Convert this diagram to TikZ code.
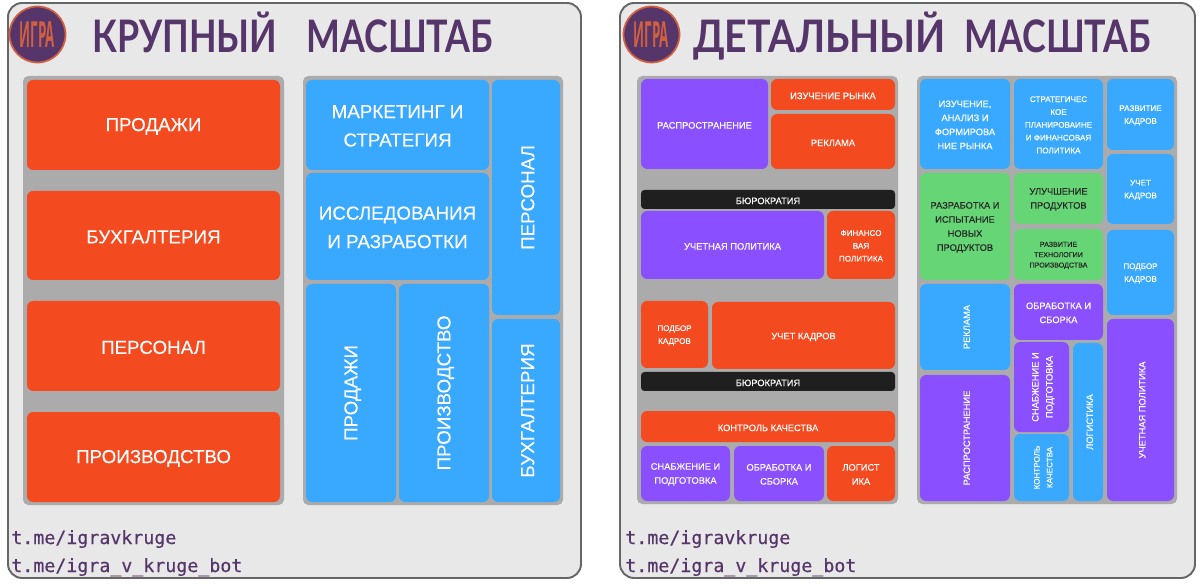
\documentclass[tikz,border=0pt]{standalone}
\usepackage{fontspec}
\setmainfont[FakeBold=0.15]{Liberation Sans}
\newfontfamily\titlefont{Lato}
\newfontfamily\logofont{Open Sans}
\newfontfamily\linkfont[FakeBold=0.4]{DejaVu Sans Mono}
\usetikzlibrary{calc}
\definecolor{gamered}{HTML}{F44A20}
\definecolor{gameblue}{HTML}{38A9FF}
\definecolor{gameviolet}{HTML}{8A4FFF}
\definecolor{gamegreen}{HTML}{66D575}
\definecolor{gameplum}{HTML}{55356A}
\definecolor{gameedge}{HTML}{D0603F}
\tikzset{
  redcell/.style={fill=gamered,rounded corners=3.5pt},
  bluecell/.style={fill=gameblue,rounded corners=3.5pt},
  violetcell/.style={fill=gameviolet,rounded corners=3.5pt},
  greencell/.style={fill=gamegreen,rounded corners=3.5pt},
  blackcell/.style={fill=black!88,rounded corners=2pt},
  panel/.style={draw=black!60,line width=1.1pt,fill=black!9,rounded corners=8pt},
  tray/.style={fill=black!33,rounded corners=3pt},
  label/.style={text=white,align=center,inner sep=0pt},
  huge/.style={label,font=\fontsize{10.7}{16.2}\selectfont},
  low/.style={label,font=\fontsize{5.3}{8}\selectfont},
  wee/.style={label,font=\fontsize{4.6}{7.3}\selectfont},
  fine/.style={label,font=\fontsize{4.05}{5.9}\selectfont},
  one/.style={yshift=-0.8pt},
  two/.style={yshift=-0.5pt},
  tall/.style={rotate=90,yshift=-1pt},
  darktext/.style={text=black!85},
  title/.style={text=gameplum,anchor=base west,inner sep=0pt,font=\titlefont\bfseries\fontsize{25.5}{26}\selectfont},
  link/.style={text=gameplum,anchor=base west,inner sep=0pt,font=\linkfont\fontsize{10.4}{12}\selectfont}
}
\newcommand{\createcell}[8]{\fill[#6] (#2,#3) rectangle (#4,#5); \node[#7] (#1) at ({(#2+#4)/2},{(#3+#5)/2}) {#8};}
\newcommand{\createlogo}[3]{\filldraw[fill=gameplum,draw=gameedge,line width=1pt] (#2,#3) circle (28); \node[text=gameedge,inner sep=0pt,xscale=0.37,font=\logofont\bfseries\fontsize{20.5}{21}\selectfont] (#1) at (#2,#3) {ИГРА};}
\begin{document}
\begin{tikzpicture}[x=0.02cm,y=-0.02cm]
    \useasboundingbox (0,0) rectangle (1200,587);
    \fill[white] (0,0) rectangle (1200,587);
    %panels
    \filldraw[panel] (8,3) rectangle (581,578);
    \filldraw[panel] (620,3) rectangle (1195,578);
    \fill[tray] (23,76) rectangle (284,505);
    \fill[tray] (303,76) rectangle (563,505);
    \fill[tray] (637,76) rectangle (898,504);
    \fill[tray] (917,76) rectangle (1177,504);
    %heads
    \createlogo{logoa}{37.5}{34.5}
    \createlogo{logob}{651.5}{34.5}
    \node[title,xscale=0.8] (titlea) at (92,53) {КРУПНЫЙ};
    \node[title,xscale=0.8] (titleb) at (306,53) {МАСШТАБ};
    \node[title,xscale=0.875] (titlec) at (693,53) {ДЕТАЛЬНЫЙ};
    \node[title,xscale=0.8] (titled) at (964,53) {МАСШТАБ};
    \foreach \x/\n in {11/a,625/b} {
        \node[link] (chan\n) at (\x,544) {t.me/igravkruge};
        \node[link] (bot\n) at (\x,572) {t.me/igra\_v\_kruge\_bot};}
    %large scale, left
    \foreach \top/\bot/\n/\txt in {80/170/sales/ПРОДАЖИ,191/280/books/БУХГАЛТЕРИЯ,301/391/staff/ПЕРСОНАЛ,412/502/prod/ПРОИЗВОДСТВО} {
        \createcell{\n}{27}{\top}{280}{\bot}{redcell}{huge,one}{\txt}}
    %large scale, right
    \createcell{market}{306}{80}{489}{170}{bluecell}{huge,two}{МАРКЕТИНГ И\\СТРАТЕГИЯ}
    \createcell{research}{306}{173}{489}{280}{bluecell}{huge,two}{ИССЛЕДОВАНИЯ\\И РАЗРАБОТКИ}
    \createcell{salesb}{306}{284}{396}{502}{bluecell}{huge,tall}{ПРОДАЖИ}
    \createcell{prodb}{399}{284}{489}{502}{bluecell}{huge,tall}{ПРОИЗВОДСТВО}
    \createcell{staffb}{492}{80}{560}{315}{bluecell}{huge,tall}{ПЕРСОНАЛ}
    \createcell{booksb}{492}{319}{560}{502}{bluecell}{huge,tall}{БУХГАЛТЕРИЯ}
    %detail scale, left
    \createcell{spread}{641}{79}{768}{169}{violetcell}{low,one}{РАСПРОСТРАНЕНИЕ}
    \createcell{study}{771}{79}{895}{110}{redcell}{low,one}{ИЗУЧЕНИЕ РЫНКА}
    \createcell{adv}{771}{114}{895}{169}{redcell}{low,one}{РЕКЛАМА}
    \createcell{burka}{641}{190}{895}{209}{blackcell}{low,one}{БЮРОКРАТИЯ}
    \createcell{policy}{641}{211}{824}{279}{violetcell}{low,one}{УЧЕТНАЯ ПОЛИТИКА}
    \createcell{fin}{827}{211}{895}{279}{redcell}{wee,two}{ФИНАНСО\\ВАЯ\\ПОЛИТИКА}
    \createcell{hire}{641}{301}{708}{368}{redcell}{wee,two}{ПОДБОР\\КАДРОВ}
    \createcell{record}{712}{302}{895}{369}{redcell}{low,one}{УЧЕТ КАДРОВ}
    \createcell{burkb}{641}{372}{895}{391}{blackcell}{low,one}{БЮРОКРАТИЯ}
    \createcell{quality}{641}{411}{895}{442}{redcell}{low,one}{КОНТРОЛЬ КАЧЕСТВА}
    \createcell{supply}{641}{446}{730}{501}{violetcell}{low,two}{СНАБЖЕНИЕ И\\ПОДГОТОВКА}
    \createcell{treat}{734}{446}{824}{501}{violetcell}{low,two}{ОБРАБОТКА И\\СБОРКА}
    \createcell{logi}{827}{446}{895}{501}{redcell}{low,two}{ЛОГИСТ\\ИКА}
    %detail scale, right
    \createcell{studyb}{920}{79}{1010}{169}{bluecell}{low,two}{ИЗУЧЕНИЕ,\\АНАЛИЗ И\\ФОРМИРОВА\\НИЕ РЫНКА}
    \createcell{strat}{1014}{79}{1103}{169}{bluecell}{wee,two}{СТРАТЕГИЧЕС\\КОЕ\\ПЛАНИРОВАИНЕ\\И ФИНАНСОВАЯ\\ПОЛИТИКА}
    \createcell{growb}{1107}{79}{1174}{150}{bluecell}{wee,two}{РАЗВИТИЕ\\КАДРОВ}
    \createcell{recordb}{1107}{154}{1174}{224}{bluecell}{wee,two}{УЧЕТ\\КАДРОВ}
    \createcell{hireb}{1107}{230}{1174}{315}{bluecell}{wee,two}{ПОДБОР\\КАДРОВ}
    \createcell{newprod}{920}{173}{1010}{280}{greencell}{low,two,darktext}{РАЗРАБОТКА И\\ИСПЫТАНИЕ\\НОВЫХ\\ПРОДУКТОВ}
    \createcell{better}{1014}{173}{1103}{224}{greencell}{low,two,darktext}{УЛУЧШЕНИЕ\\ПРОДУКТОВ}
    \createcell{tech}{1014}{229}{1103}{280}{greencell}{fine,two,darktext}{РАЗВИТИЕ\\ТЕХНОЛОГИИ\\ПРОИЗВОДСТВА}
    \createcell{advb}{920}{284}{1010}{370}{bluecell}{low,tall}{РЕКЛАМА}
    \createcell{spreadb}{920}{375}{1010}{501}{violetcell}{low,tall}{РАСПРОСТРАНЕНИЕ}
    \createcell{treatb}{1014}{284}{1103}{340}{violetcell}{low,two}{ОБРАБОТКА И\\СБОРКА}
    \createcell{supplyb}{1014}{342}{1069}{432}{violetcell}{low,tall}{СНАБЖЕНИЕ И\\ПОДГОТОВКА}
    \createcell{qualityb}{1014}{434}{1069}{501}{bluecell}{wee,tall}{КОНТРОЛЬ\\КАЧЕСТВА}
    \createcell{logib}{1073}{343}{1103}{501}{bluecell}{low,tall}{ЛОГИСТИКА}
    \createcell{policyb}{1107}{319}{1174}{501}{violetcell}{low,tall}{УЧЕТНАЯ ПОЛИТИКА}
\end{tikzpicture}
\end{document}
